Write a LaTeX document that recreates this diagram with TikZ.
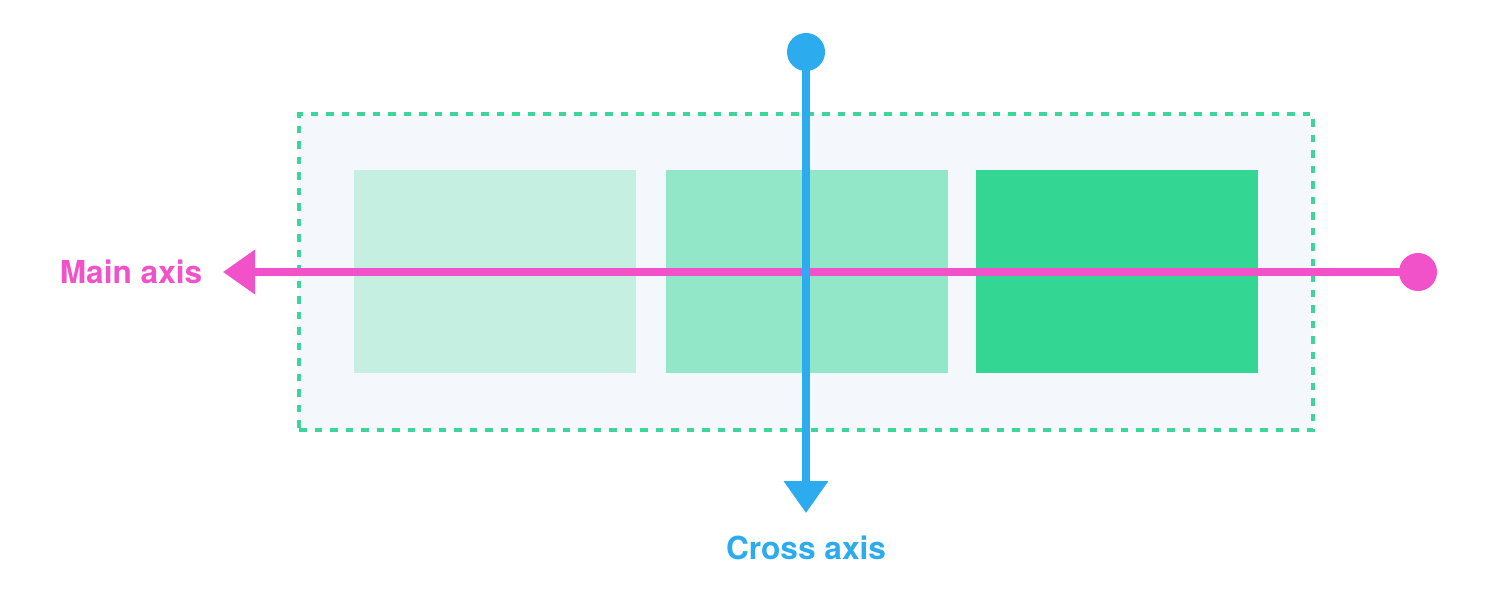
\documentclass[tikz,border=0pt]{standalone}
\usepackage{fontspec}
\setmainfont{TeX Gyre Heros}
\usepackage{xcolor}
\usetikzlibrary{math,positioning,arrows.meta}

\definecolor{mainpink}{HTML}{F252C9}
\definecolor{crossblue}{HTML}{2CABEE}
\definecolor{flexborder}{HTML}{3DD598}
\definecolor{flexbg}{HTML}{F4F7FB}
\definecolor{itemone}{HTML}{C5F0E1}
\definecolor{itemtwo}{HTML}{91E7C7}
\definecolor{itemthree}{HTML}{34D694}

\begin{document}
\begin{tikzpicture}[
item/.style={minimum width=2.82cm,minimum height=2.03cm,inner sep=0pt},
axislabel/.style={font=\fontsize{9}{10}\selectfont\bfseries,inner sep=0pt},
axisline/.style={line width=2pt,{Circle[length=3.8mm]}-{Triangle[width=4.3mm,length=3.2mm]}}
]

\tikzmath{
\scale = 1;
}

\useasboundingbox (0,0) rectangle (15.04*\scale,6.08*\scale);

\node[draw=flexborder,fill=flexbg,line width=1.1pt,dash pattern=on 0.75mm off 0.8mm,minimum width=10.14cm,minimum height=3.16cm,inner sep=0pt] (container) at (8.06*\scale,3.36*\scale) {};

\node[item,fill=itemone] (item1) at (4.95*\scale,3.365*\scale) {};
\node[item,fill=itemtwo,right=0.285cm of item1] (item2) {};
\node[item,fill=itemthree,right=0.265cm of item2] (item3) {};

\coordinate (mainstart) at (14.37*\scale,3.36*\scale);
\coordinate (mainend) at (2.23*\scale,3.36*\scale);
\coordinate (crossstart) at (8.06*\scale,5.75*\scale);
\coordinate (crossend) at (8.06*\scale,0.95*\scale);

\draw[axisline,mainpink] (mainstart) -- (mainend);
\draw[axisline,crossblue] (crossstart) -- (crossend);

\node[axislabel,text=mainpink,left=0.2cm of mainend] (mainlabel) {Main axis};
\node[axislabel,text=crossblue,below=0.22cm of crossend] (crosslabel) {Cross axis};

\end{tikzpicture}
\end{document}
